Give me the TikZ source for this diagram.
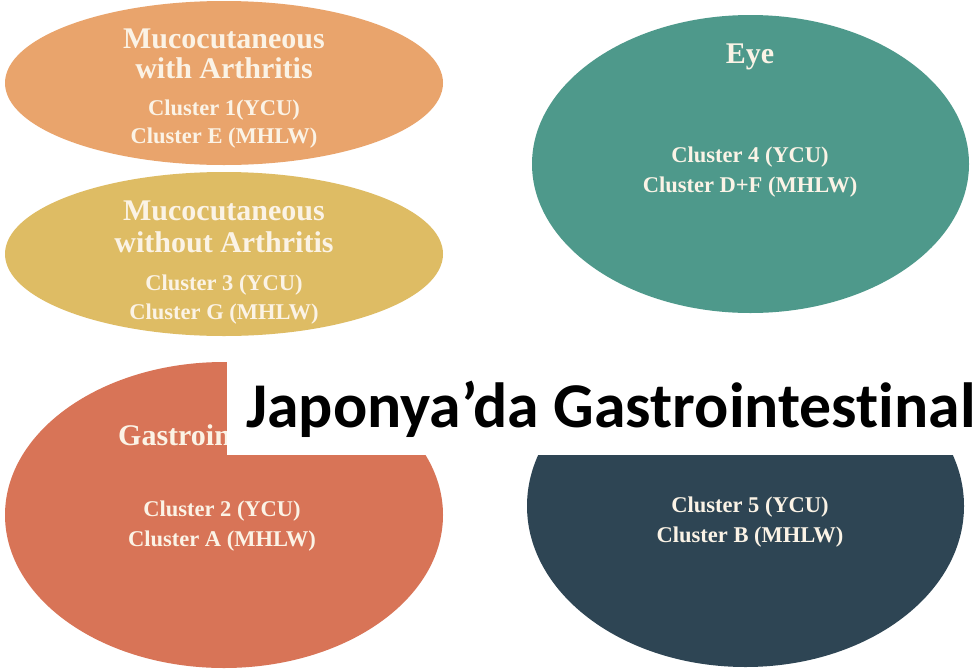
\documentclass[tikz,border=0pt]{standalone}
\usepackage{fontspec}
\usetikzlibrary{shapes.geometric}
\newfontfamily\serifbold{Liberation Serif}
\newfontfamily\calfont{Carlito}[Ligatures=NoCommon]
\definecolor{cOrange}{RGB}{233,164,108}
\definecolor{cYellow}{RGB}{222,188,100}
\definecolor{cRed}{RGB}{216,116,87}
\definecolor{cTeal}{RGB}{78,153,139}
\definecolor{cDark}{RGB}{46,69,84}
\definecolor{cText}{RGB}{251,243,230}
\tikzset{
  blob/.style={ellipse, inner sep=0pt, draw=none},
  head/.style={anchor=base, text=cText, inner sep=0pt, font=\serifbold\bfseries\fontsize{30}{31}\selectfont},
  sub/.style={anchor=base, text=cText, inner sep=0pt, font=\serifbold\bfseries\fontsize{22.5}{28}\selectfont},
  banner/.style={rectangle, fill=white, draw=none, inner sep=0pt},
  bannertext/.style={anchor=base west, inner sep=0pt, text=black, font=\calfont\bfseries\fontsize{63.8}{70}\selectfont},
}
\begin{document}
\begin{tikzpicture}[x=1pt,y=-1pt]
\useasboundingbox (0,0) rectangle (974,670);
\fill[white] (0,0) rectangle (974,670);
% ellipses
\node[blob, fill=cOrange, minimum width=438pt, minimum height=164pt] (mwa) at (224,83) {};
\node[blob, fill=cYellow, minimum width=438pt, minimum height=164pt] (mwo) at (224,254) {};
\node[blob, fill=cRed, minimum width=438pt, minimum height=306pt] (gi) at (224,515) {};
\node[blob, fill=cTeal, minimum width=437pt, minimum height=298pt] (eye) at (750.5,164) {};
\node[blob, fill=cDark, minimum width=437pt, minimum height=322pt] (dk) at (745.5,506) {};
% texts
\node[head] (t1a) at (224,48) {Mucocutaneous};
\node[head] (t1b) at (224,78) {with Arthritis};
\node[sub] (t1c) at (224,115) {Cluster 1(YCU)};
\node[sub] (t1d) at (224,143) {Cluster E (MHLW)};
\node[head] (t2a) at (224,220) {Mucocutaneous};
\node[head] (t2b) at (224,252) {without Arthritis};
\node[sub] (t2c) at (224,290) {Cluster 3 (YCU)};
\node[sub] (t2d) at (224,319) {Cluster G (MHLW)};
\node[head, anchor=base west] (t3a) at (118,445) {Gastroin};
\node[sub] (t3c) at (222,516) {Cluster 2 (YCU)};
\node[sub] (t3d) at (222,546) {Cluster A (MHLW)};
\node[head] (t4a) at (750,63) {Eye};
\node[sub] (t4c) at (750,162) {Cluster 4 (YCU)};
\node[sub] (t4d) at (750,192) {Cluster D+F (MHLW)};
\node[sub] (t5c) at (750,512) {Cluster 5 (YCU)};
\node[sub] (t5d) at (750,542) {Cluster B (MHLW)};
% banner
\node[banner, minimum width=747pt, minimum height=113pt] (ban) at (600.5,398.5) {};
\node[bannertext] (bant) at (246,427) {Japonya’da Gastrointestinal};
\end{tikzpicture}
\end{document}
